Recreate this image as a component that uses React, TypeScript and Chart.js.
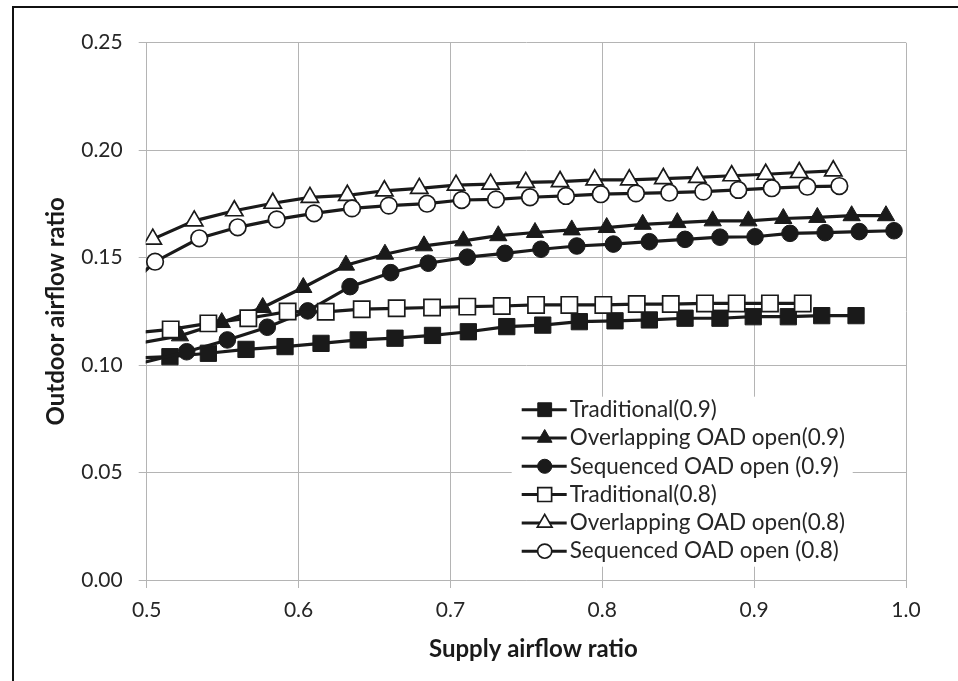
import React, { useEffect, useRef } from 'react';
import { Chart, registerables } from 'chart.js';
import { drawPoint } from 'chart.js/helpers';

Chart.register(...registerables);

// Supply airflow ratio (x) and outdoor airflow ratio (y) for each control strategy.
// The first point of several series sits just left of 0.5 so the line runs to the axis.
const traditional09X = [0.49, 0.5153, 0.5406, 0.5654, 0.5911, 0.6148, 0.6393, 0.6635, 0.6882, 0.7118, 0.7371, 0.7608, 0.7849, 0.8084, 0.831, 0.8545, 0.8775, 0.8994, 0.9225, 0.9445, 0.9671];
const traditional09Y = [0.1033, 0.1039, 0.1055, 0.1073, 0.1086, 0.1101, 0.1117, 0.1125, 0.1138, 0.1155, 0.1179, 0.1186, 0.1202, 0.1206, 0.121, 0.1218, 0.1218, 0.1225, 0.1225, 0.123, 0.123];

const overlapping09X = [0.49, 0.5219, 0.5494, 0.5764, 0.6031, 0.6312, 0.6569, 0.6826, 0.7085, 0.7315, 0.7557, 0.7799, 0.8029, 0.8266, 0.8494, 0.8727, 0.8962, 0.9192, 0.9416, 0.9642, 0.9868];
const overlapping09Y = [0.1096, 0.1136, 0.1198, 0.1268, 0.1361, 0.1465, 0.1516, 0.1555, 0.1578, 0.1602, 0.1617, 0.1629, 0.164, 0.1655, 0.1663, 0.1671, 0.1671, 0.1682, 0.1687, 0.1695, 0.1695];

const sequenced09X = [0.49, 0.5263, 0.5531, 0.5794, 0.606, 0.6339, 0.6607, 0.6854, 0.7111, 0.7359, 0.7596, 0.7832, 0.8073, 0.831, 0.8545, 0.8775, 0.9006, 0.9236, 0.9467, 0.9692, 0.9921];
const sequenced09Y = [0.0998, 0.1062, 0.1117, 0.1176, 0.1252, 0.1365, 0.143, 0.1474, 0.1502, 0.152, 0.1539, 0.1554, 0.1563, 0.1574, 0.1585, 0.1595, 0.1597, 0.1613, 0.1616, 0.1621, 0.1625];

const traditional08X = [0.49, 0.5158, 0.5406, 0.5669, 0.5928, 0.6179, 0.6416, 0.6646, 0.6879, 0.7111, 0.7338, 0.7564, 0.7783, 0.8007, 0.8227, 0.8451, 0.8676, 0.8885, 0.9104, 0.932];
const traditional08Y = [0.1148, 0.1166, 0.1194, 0.1218, 0.1249, 0.1248, 0.126, 0.1264, 0.1268, 0.1272, 0.1275, 0.128, 0.128, 0.128, 0.1284, 0.1284, 0.1287, 0.1287, 0.1287, 0.1287];

const overlapping08X = [0.504, 0.5313, 0.5577, 0.583, 0.6075, 0.6321, 0.6565, 0.6795, 0.7037, 0.7265, 0.7496, 0.7722, 0.795, 0.8178, 0.8402, 0.8626, 0.8852, 0.9076, 0.9297, 0.9521];
const overlapping08Y = [0.1586, 0.1671, 0.1718, 0.1753, 0.178, 0.179, 0.1811, 0.1822, 0.1837, 0.1842, 0.185, 0.1854, 0.1862, 0.1862, 0.1868, 0.1873, 0.1881, 0.1888, 0.1896, 0.1904];

const sequenced08X = [0.48, 0.5055, 0.5346, 0.5599, 0.5856, 0.6102, 0.6352, 0.6594, 0.6846, 0.7074, 0.73, 0.7524, 0.7761, 0.799, 0.8222, 0.8441, 0.8665, 0.8896, 0.9116, 0.935, 0.9561];
const sequenced08Y = [0.1315, 0.1481, 0.159, 0.1641, 0.1678, 0.1706, 0.1729, 0.1742, 0.1751, 0.1768, 0.1771, 0.1781, 0.1787, 0.1795, 0.1799, 0.1802, 0.1807, 0.1815, 0.1823, 0.183, 0.1833];

const seriesLabels = [
  'Traditional(0.9)',
  'Overlapping OAD open(0.9)',
  'Sequenced OAD open (0.9)',
  'Traditional(0.8)',
  'Overlapping OAD open(0.8)',
  'Sequenced OAD open (0.8)',
];

const xTickValues = [0.5, 0.6, 0.7, 0.8, 0.9, 1.0];
const yTickValues = [0, 0.05, 0.1, 0.15, 0.2, 0.25];
const xAxisTitle = 'Supply airflow ratio';
const yAxisTitle = 'Outdoor airflow ratio';

const INK = '#1a1a1a';
const GRID = '#b4b4b4';
const FONT = 'Lato, "Open Sans", sans-serif';

const pairs = (xs: number[], ys: number[]) => xs.map((x, i) => ({ x, y: ys[i] }));

type Style = { pointStyle: string; filled: boolean; radius: number };
const styles: Style[] = [
  { pointStyle: 'rect', filled: true, radius: 11.5 },
  { pointStyle: 'triangle', filled: true, radius: 10 },
  { pointStyle: 'circle', filled: true, radius: 8.3 },
  { pointStyle: 'rect', filled: false, radius: 11.5 },
  { pointStyle: 'triangle', filled: false, radius: 10 },
  { pointStyle: 'circle', filled: false, radius: 8.3 },
];

const seriesData = [
  pairs(traditional09X, traditional09Y),
  pairs(overlapping09X, overlapping09Y),
  pairs(sequenced09X, sequenced09Y),
  pairs(traditional08X, traditional08Y),
  pairs(overlapping08X, overlapping08Y),
  pairs(sequenced08X, sequenced08Y),
];

// Legend drawn inside the plot: a short line with the series marker in its middle.
const lineMarkerLegend = {
  id: 'lineMarkerLegend',
  afterDatasetsDraw(chart: any) {
    const { ctx, chartArea } = chart;
    const boxLeft = chartArea.left + 365;
    const boxTop = chartArea.top + 354;
    const rowGap = 28.3;
    ctx.save();
    ctx.fillStyle = '#ffffff';
    ctx.fillRect(boxLeft, boxTop, 341, 170);
    chart.data.datasets.forEach((ds: any, i: number) => {
      const y = boxTop + 13 + i * rowGap;
      const x0 = boxLeft + 10;
      ctx.strokeStyle = INK;
      ctx.lineWidth = 3;
      ctx.beginPath();
      ctx.moveTo(x0, y);
      ctx.lineTo(x0 + 45, y);
      ctx.stroke();
      ctx.fillStyle = ds.pointBackgroundColor;
      ctx.strokeStyle = INK;
      ctx.lineWidth = ds.pointBorderWidth;
      drawPoint(ctx, {
        pointStyle: ds.pointStyle,
        radius: ds.pointRadius * 0.85,
        rotation: 0,
        borderWidth: ds.pointBorderWidth,
      } as any, x0 + 23, y);
      ctx.fillStyle = '#262626';
      ctx.font = `22.5px ${FONT}`;
      ctx.textAlign = 'left';
      ctx.textBaseline = 'middle';
      ctx.fillText(ds.label, x0 + 48, y);
    });
    ctx.restore();
  },
};

// Horizontal axis title, set a little right of the plot centre.
const xTitlePlugin = {
  id: 'xTitle',
  afterDraw(chart: any) {
    const { ctx, chartArea, height } = chart;
    ctx.save();
    ctx.fillStyle = '#1a1a1a';
    ctx.font = `bold 24px ${FONT}`;
    ctx.textAlign = 'center';
    ctx.textBaseline = 'middle';
    ctx.fillText(xAxisTitle, (chartArea.left + chartArea.right) / 2 + 7, height - 32);
    ctx.restore();
  },
};

export default function App() {
  const canvasRef = useRef<HTMLCanvasElement | null>(null);

  useEffect(() => {
    if (!canvasRef.current) return;
    const datasets = seriesLabels.map((label, i) => {
      const s = styles[i];
      return {
        label,
        data: seriesData[i],
        borderColor: INK,
        backgroundColor: s.filled ? INK : '#ffffff',
        borderWidth: 3.2,
        tension: 0,
        pointStyle: s.pointStyle,
        pointRadius: s.radius,
        pointHoverRadius: s.radius,
        pointBackgroundColor: s.filled ? INK : '#ffffff',
        pointBorderColor: INK,
        pointBorderWidth: s.filled ? 1 : 1.7,
        clip: { left: 1, right: 12, top: 12, bottom: 12 },
        order: seriesLabels.length - i,
      };
    });

    const chart = new Chart(canvasRef.current, {
      type: 'line',
      data: { datasets },
      plugins: [lineMarkerLegend, xTitlePlugin],
      options: {
        responsive: false,
        animation: false,
        devicePixelRatio: 1,
        layout: { padding: { top: 42.7, right: 52, bottom: 0, left: 0 } },
        plugins: { legend: { display: false }, tooltip: { enabled: false } },
        scales: {
          x: {
            type: 'linear',
            min: 0.5,
            max: 1.0,
            afterFit: (scale: any) => { scale.height = 101; },
            afterBuildTicks: (scale: any) => { scale.ticks = xTickValues.map((v) => ({ value: v })); },
            ticks: {
              color: '#262626',
              font: { family: FONT, size: 21 },
              padding: 10,
              callback: (v: any) => Number(v).toFixed(1),
            },
            grid: { color: GRID, lineWidth: 1, tickLength: 8, tickColor: GRID },
            border: { color: GRID, width: 1 },
            title: { display: false },
          },
          y: {
            type: 'linear',
            min: 0,
            max: 0.25,
            afterFit: (scale: any) => { scale.width = 146.7; },
            afterBuildTicks: (scale: any) => { scale.ticks = yTickValues.map((v) => ({ value: v })); },
            ticks: {
              color: '#262626',
              font: { family: FONT, size: 21 },
              padding: 16,
              callback: (v: any) => Number(v).toFixed(2),
            },
            grid: { color: GRID, lineWidth: 1, tickLength: 8, tickColor: GRID },
            border: { color: GRID, width: 1 },
            title: {
              display: true,
              text: yAxisTitle,
              color: '#1a1a1a',
              font: { family: FONT, size: 24, weight: 'bold' },
              padding: { top: 42.3, bottom: 0 },
            },
          },
        },
      },
    } as any);

    return () => chart.destroy();
  }, []);

  return (
    <div style={{ position: 'absolute', left: 0, top: 0, width: 958, height: 681, background: '#ffffff' }}>
      <canvas ref={canvasRef} width={958} height={681} style={{ display: 'block' }} />
      <div
        style={{
          position: 'absolute',
          left: 12,
          top: 6,
          right: 0,
          bottom: 0,
          borderLeft: '2px solid #111',
          borderTop: '2px solid #111',
          pointerEvents: 'none',
        }}
      />
    </div>
  );
}
